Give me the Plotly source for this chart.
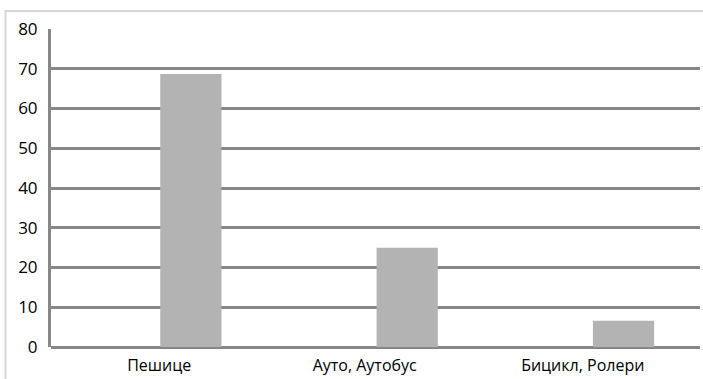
import plotly.graph_objects as go

# Начин доласка у школу (%)
categories = ["Пешице", "Ауто, Аутобус", "Бицикл, Ролери"]
values = [68.7, 25.0, 6.6]
y_ticks = [0, 10, 20, 30, 40, 50, 60, 70, 80]

# category slots on a numeric axis; labels sit slightly left of slot centre
slots = [0, 1, 2]
label_pos = [0.0, 0.95, 1.958]

W, H = 703, 379
ML, MR, MT, MB = 51, 3, 29, 32
pw, ph = W - ML - MR, H - MT - MB

def px_x(x):
    return (x - ML) / pw

def px_y(y):
    return (H - MB - y) / ph

fig = go.Figure()
fig.add_trace(go.Bar(
    x=slots,
    y=values,
    customdata=categories,
    marker=dict(color="#b3b3b3", line=dict(width=0)),
    width=0.283,
    offset=0.005,
    hovertemplate="%{customdata}: %{y}<extra></extra>",
))

grid_col = "#878787"
fig.update_layout(
    width=W, height=H,
    margin=dict(l=ML, r=MR, t=MT, b=MB),
    paper_bgcolor="white",
    plot_bgcolor="white",
    showlegend=False,
    font=dict(family="Open Sans", size=16, color="#000000"),
    xaxis=dict(
        range=[-0.5, 2.5],
        tickvals=label_pos,
        ticktext=categories,
        showgrid=False,
        showline=False,
        zeroline=False,
        ticks="outside",
        ticklen=4,
        tickcolor="rgba(0,0,0,0)",
        tickfont=dict(size=16),
        fixedrange=True,
    ),
    yaxis=dict(
        range=[0, 80],
        tickvals=y_ticks,
        showgrid=True,
        gridcolor=grid_col,
        gridwidth=3,
        zeroline=True,
        zerolinecolor=grid_col,
        zerolinewidth=3,
        showline=True,
        linecolor=grid_col,
        linewidth=3,
        ticks="outside",
        ticklen=7,
        tickcolor="rgba(0,0,0,0)",
        tickfont=dict(size=17),
        fixedrange=True,
    ),
    # light outer frame of the chart area (bottom and right edges run off the page)
    shapes=[dict(
        type="rect", xref="paper", yref="paper",
        x0=px_x(5.5), x1=px_x(W + 6), y0=px_y(H + 10), y1=px_y(11),
        line=dict(color="#d6d6d6", width=2),
        fillcolor="rgba(0,0,0,0)",
        layer="above",
    )],
)

fig.write_html("out.html")
